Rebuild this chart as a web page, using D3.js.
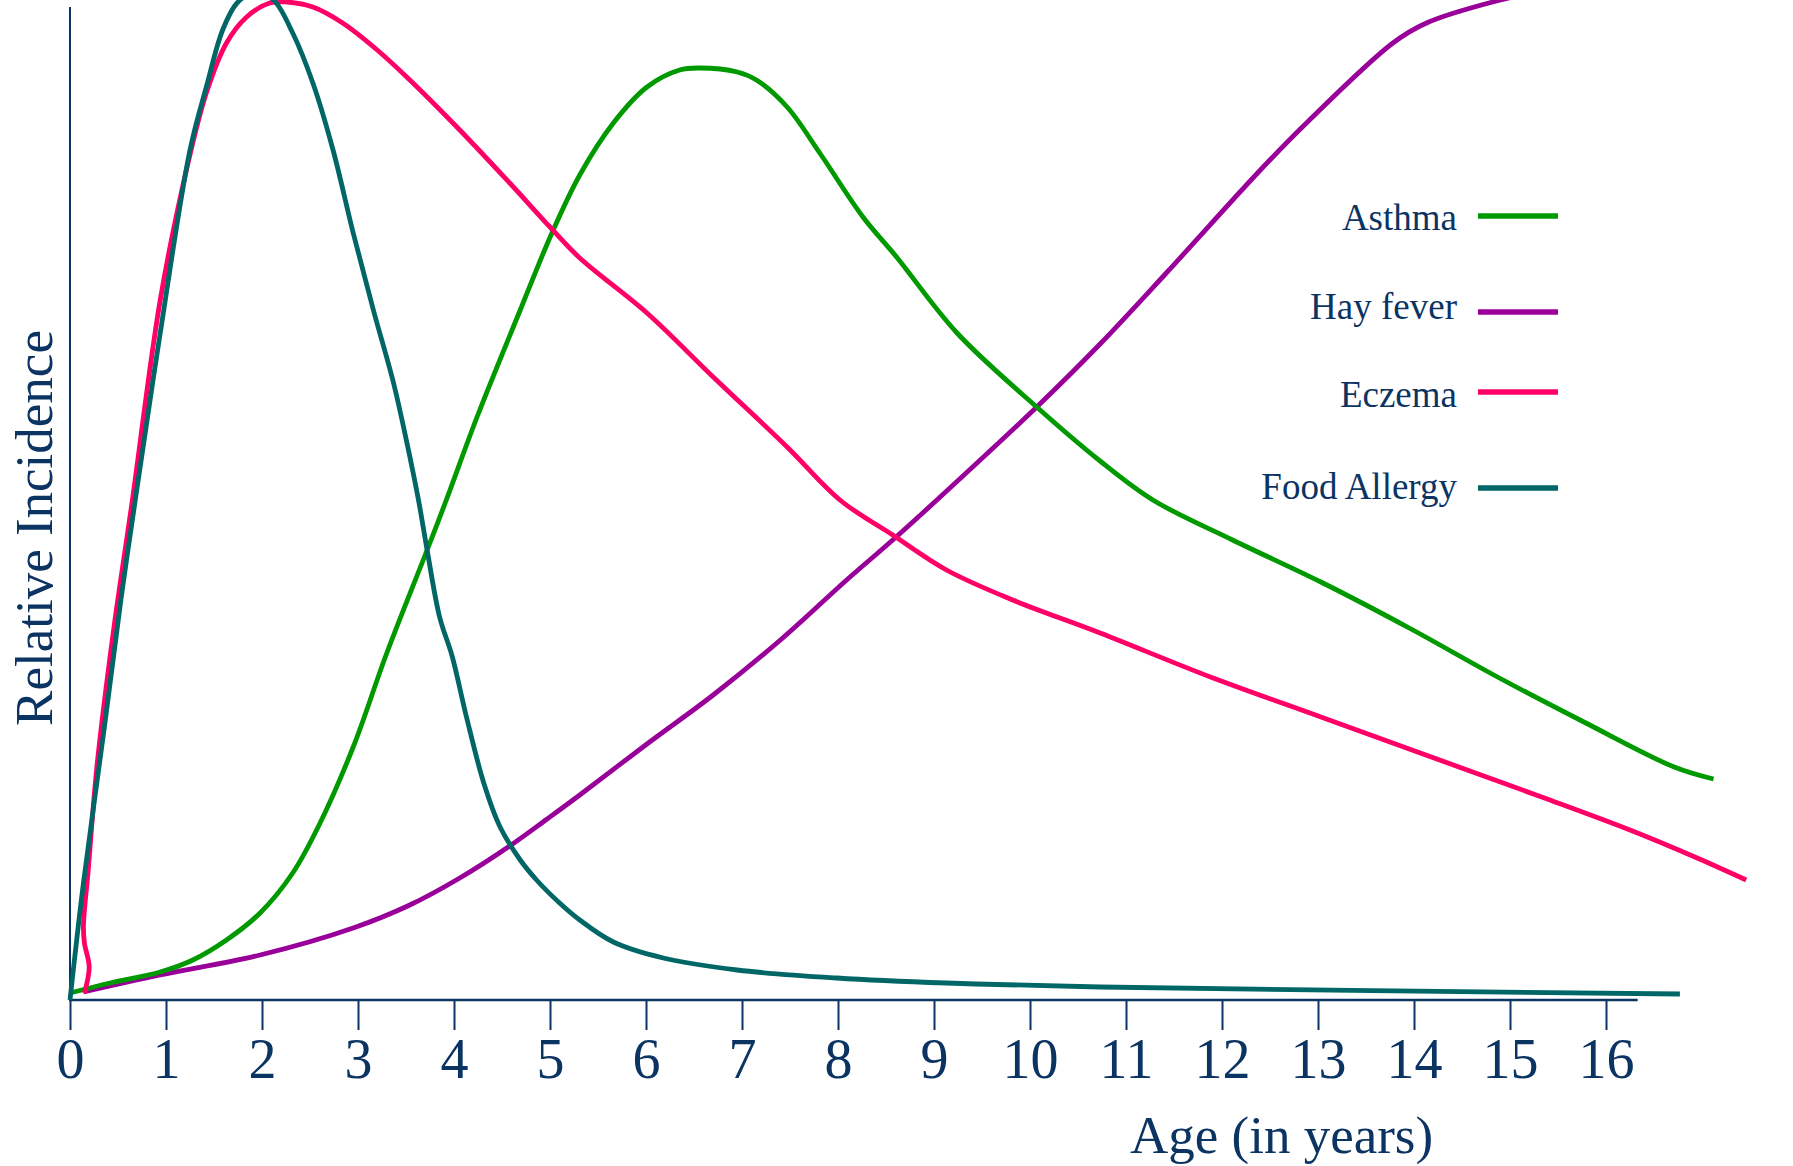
<!DOCTYPE html>
<html>
<head>
<meta charset="utf-8">
<script src="https://cdn.jsdelivr.net/npm/d3@7"></script>
<style>
  html, body { margin: 0; padding: 0; background: #ffffff; }
  svg { display: block; }
  text { font-family: "Liberation Serif", "Times New Roman", serif; fill: #0b3463; }
</style>
</head>
<body>
<script>
// ---------- data ----------
const seriesNames = ["Asthma", "Hay fever", "Eczema", "Food Allergy"];
const seriesColors = ["#009900", "#990099", "#ff0066", "#006666"];
const tickLabels = ["0","1","2","3","4","5","6","7","8","9","10","11","12","13","14","15","16"];

const asthmaAge = [0, 0.42, 0.94, 1.28, 1.63, 1.98, 2.32, 2.6, 2.95, 3.3, 3.72, 3.92, 4.24, 4.69, 5.02, 5.31, 5.66, 6.01, 6.35, 6.56, 6.95, 7.15, 7.47, 7.81, 8.26, 8.61, 9.24, 10.07, 10.73, 11.28, 12.11, 13.03, 13.95, 14.87, 15.79, 16.71, 17.12];
const asthmaVal = [0.7, 1.7, 2.8, 4.0, 6.0, 8.7, 12.7, 17.6, 25.3, 34.7, 45.0, 50.0, 58.3, 69.0, 76.7, 82.5, 87.7, 91.3, 93.0, 93.2, 92.8, 92.0, 89.3, 84.7, 78.3, 74.3, 66.7, 59.3, 53.9, 50.0, 46.0, 41.8, 37.2, 32.3, 27.7, 23.3, 22.1];

const hayAge = [0.14, 0.94, 1.98, 2.95, 3.54, 4.06, 4.58, 4.97, 5.31, 6.01, 6.7, 7.4, 8.09, 8.57, 9.03, 10.07, 10.73, 11.42, 12.4, 12.88, 13.78, 14.13, 14.9, 15.5];
const hayVal = [0.8, 2.5, 4.5, 7.2, 9.5, 12.2, 15.4, 18.1, 20.5, 25.6, 30.5, 36.0, 42.0, 46.0, 50.0, 59.3, 65.6, 72.7, 83.0, 87.7, 95.7, 97.7, 100.0, 101.2];

const eczemaAge = [0.15, 0.2, 0.15, 0.14, 0.19, 0.28, 0.45, 0.65, 0.94, 1.22, 1.42, 1.63, 1.84, 2.08, 2.26, 2.53, 2.84, 3.2, 3.54, 4.06, 4.58, 5.0, 5.31, 6.01, 6.7, 7.47, 8.02, 8.57, 9.13, 9.82, 10.73, 11.88, 13.03, 14.18, 15.33, 16.25, 16.95, 17.46];
const eczemaVal = [0.7, 3.3, 5.7, 7.4, 13.0, 23.3, 36.7, 50.0, 70.0, 83.3, 90.7, 95.7, 98.3, 99.7, 99.8, 99.3, 97.7, 95.0, 92.0, 87.0, 81.7, 77.3, 74.2, 68.7, 62.3, 55.3, 50.0, 46.5, 43.0, 40.0, 36.7, 32.3, 28.3, 24.3, 20.3, 17.0, 14.2, 12.0];

const foodAge = [0, 0.14, 0.35, 0.53, 0.68, 0.94, 1.25, 1.42, 1.59, 1.74, 1.93, 2.12, 2.32, 2.53, 2.74, 2.95, 3.16, 3.37, 3.51, 3.63, 3.72, 3.85, 3.98, 4.13, 4.31, 4.48, 4.69, 4.86, 5.1, 5.31, 5.66, 6.18, 6.95, 7.99, 9.13, 10.73, 16.77];
const foodVal = [0, 11.7, 26.7, 40.0, 50.0, 66.7, 85.0, 91.3, 97.0, 99.7, 100.8, 100.0, 96.7, 91.7, 85.0, 76.7, 69.0, 61.7, 55.7, 50.0, 45.0, 38.3, 34.4, 28.3, 21.7, 17.3, 14.0, 12.0, 9.7, 8.0, 5.8, 4.2, 3.0, 2.2, 1.7, 1.3, 0.6];

// ---------- layout ----------
const W = 1793, H = 1166;
const x0 = 70, yAxisY = 1000;
const x = d3.scaleLinear().domain([0, 17.5]).range([x0, x0 + 17.5 * 96]);
const y = d3.scaleLinear().domain([0, 100]).range([yAxisY, 0]);
const navy = "#0b3463";

const svg = d3.select("body").append("svg").attr("width", W).attr("height", H);

// y axis line
svg.append("line")
  .attr("x1", x(0)).attr("x2", x(0))
  .attr("y1", 7).attr("y2", y(0))
  .attr("stroke", navy).attr("stroke-width", 2);

// x axis
const xAxis = d3.axisBottom(x)
  .tickValues(d3.range(0, 17))
  .tickFormat((d, i) => tickLabels[i])
  .tickSize(30)
  .tickSizeOuter(0);
const gx = svg.append("g").attr("transform", `translate(0,${yAxisY})`).call(xAxis);
gx.select(".domain").remove();
gx.selectAll(".tick line").attr("stroke", navy).attr("stroke-width", 2);
gx.selectAll(".tick text")
  .attr("y", 78).attr("dy", null)
  .style("font-size", "56px")
  .style("font-family", '"Liberation Serif", "Times New Roman", serif')
  .attr("fill", navy);
gx.append("line")
  .attr("x1", x(0) - 1).attr("x2", x(16.33))
  .attr("y1", 0).attr("y2", 0)
  .attr("stroke", navy).attr("stroke-width", 2.5);

// axis titles
svg.append("text")
  .attr("x", 1130).attr("y", 1153)
  .style("font-size", "53px")
  .text("Age (in years)");
svg.append("text")
  .attr("transform", `translate(52,${528}) rotate(-90)`)
  .attr("text-anchor", "middle")
  .style("font-size", "53px")
  .text("Relative Incidence");

// curves
const series = [
  { ages: asthmaAge, vals: asthmaVal },
  { ages: hayAge, vals: hayVal },
  { ages: eczemaAge, vals: eczemaVal },
  { ages: foodAge, vals: foodVal }
];
const line = d3.line()
  .x(d => x(d[0]))
  .y(d => y(d[1]))
  .curve(d3.curveCatmullRom.alpha(0.5));

const drawOrder = [1, 0, 2, 3];
drawOrder.forEach(i => {
  const s = series[i];
  const pts = s.ages.map((a, k) => [a, s.vals[k]]);
  svg.append("path")
    .attr("d", line(pts))
    .attr("fill", "none")
    .attr("stroke", seriesColors[i])
    .attr("stroke-width", 4.8)
    .attr("stroke-linejoin", "round")
    .attr("stroke-linecap", "butt");
});

// legend
const legendLineY = [216, 312, 392, 488];
const legendTextY = [230, 319, 407, 499];
seriesNames.forEach((name, i) => {
  svg.append("text")
    .attr("x", 1457).attr("y", legendTextY[i])
    .attr("text-anchor", "end")
    .style("font-size", "37px")
    .text(name);
  svg.append("line")
    .attr("x1", 1478).attr("x2", 1558)
    .attr("y1", legendLineY[i]).attr("y2", legendLineY[i])
    .attr("stroke", seriesColors[i])
    .attr("stroke-width", 5.5);
});
</script>
</body>
</html>
